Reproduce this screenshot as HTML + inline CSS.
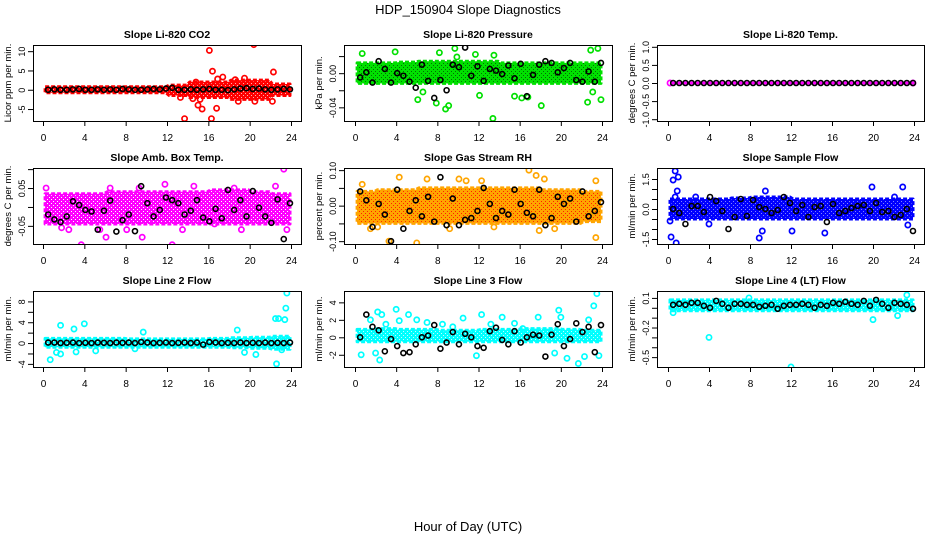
<!DOCTYPE html>
<html><head><meta charset="utf-8"><style>
body{margin:0;background:#fff;}
svg text{font-family:"Liberation Sans",Arial,sans-serif;}
</style></head><body>
<svg id="chart" width="936" height="540" viewBox="0 0 936 540" xmlns="http://www.w3.org/2000/svg">
<defs id="defs"></defs>
<text x="468" y="14" text-anchor="middle" font-size="13">HDP_150904  Slope Diagnostics</text>
<text x="468" y="531" text-anchor="middle" font-size="13">Hour of Day (UTC)</text>
</svg>
<script>
// ---------- data ----------
const hourTicks = [0,4,8,12,16,20,24];
const blackStart = 0.5, blackStep = 0.6;

const co2BandLo = [-0.8,-0.8,-0.8,-0.8,-0.8,-0.8,-1.5,-2,-2,-2.5,-2.5,-1.5];
const co2BandHi = [0.8,0.8,0.8,0.8,0.8,0.8,1.2,2,2,2.5,2.5,1.5];
const co2ColorHours = [13.3,13.7,14.8,15,15.4,16.1,16.3,16.4,16.8,16.9,17.4,18.6,18.9,19.5,20.4,20.5,22.3,22.2,15.2,14.5];
const co2ColorVals = [-2,-7.5,2,-4,-5,10.2,-7.5,4.8,-4.8,2.8,3.3,2.6,-3,3,11.7,-3,4.6,-3,-2.5,-2.3];
const co2Black = [0,0.1,0,0,0.1,0.2,0,0,0.1,0,0.1,0,0.2,0.1,0,0,0.1,0.2,0.1,0.3,0.5,0,0,0.1,0,0.1,0.2,0,0,-0.1,0.1,0.3,0.4,0.2,0.3,0.1,0,0.1,0.2,0.1];

const prBandLo = [-0.012,-0.012,-0.012,-0.012,-0.012,-0.012,-0.012,-0.012,-0.012,-0.012,-0.012,-0.012];
const prBandHi = [0.012,0.012,0.013,0.014,0.014,0.014,0.014,0.012,0.012,0.012,0.012,0.012];
const prColorHours = [0.7,3.9,6.1,6.6,7.9,8.2,8.8,9.1,9.7,9.9,11.7,12.1,13.4,13.5,15.5,16.2,16.8,18.1,22.6,22.9,23.6,23.9,23.1];
const prColorVals = [0.023,0.025,-0.031,-0.022,-0.035,0.024,-0.042,-0.038,0.029,0.019,0.022,-0.026,-0.053,0.021,-0.027,-0.029,-0.028,-0.038,-0.034,0.027,0.029,-0.031,-0.022];
const prBlack = [-0.005,0.001,-0.011,0.014,0.005,-0.011,0.0,-0.003,-0.01,-0.017,0.01,-0.009,-0.029,-0.008,-0.02,0.01,0.007,0.03,-0.003,0.008,-0.009,0.005,0.003,-0.001,0.009,-0.006,0.011,-0.027,-0.002,0.01,0.014,0.012,0.001,0.006,0.012,-0.008,-0.01,0.002,-0.01,0.012];

const tmBandLo = [0,0,0,0,0,0,0,0,0,0,0,0];
const tmBandHi = [0,0,0,0,0,0,0,0,0,0,0,0];
const tmColorHours = [0.2,23.9];
const tmColorVals = [0,0];
const tmBlack = [0,0,0,0,0,0,0,0,0,0,0,0,0,0,0,0,0,0,0,0,0,0,0,0,0,0,0,0,0,0,0,0,0,0,0,0,0,0,0,0];

const abBandLo = [-0.045,-0.045,-0.045,-0.045,-0.045,-0.045,-0.045,-0.045,-0.045,-0.045,-0.045,-0.045];
const abBandHi = [0.035,0.035,0.035,0.04,0.04,0.04,0.04,0.04,0.045,0.045,0.04,0.035];
const abColorHours = [0.3,3.7,2.5,6.1,6.5,9.6,9.3,11.8,12.5,14.6,18.5,19.2,23.3,23.6,22.5,5.5,8.1,16.6,1.8,13.5];
const abColorVals = [0.05,-0.1,-0.06,-0.08,0.05,-0.08,0.05,0.06,-0.1,0.055,0.05,-0.06,0.1,-0.06,0.055,-0.06,-0.06,-0.045,-0.055,-0.06];
const abBlack = [-0.02,-0.033,-0.04,-0.025,0.015,0.005,-0.008,-0.012,-0.06,-0.01,0.017,-0.065,-0.035,-0.02,-0.064,0.055,0.01,-0.025,-0.008,0.025,0.018,0.01,-0.02,-0.01,0.018,-0.028,-0.038,-0.005,-0.03,0.045,-0.008,0.018,-0.025,0.042,-0.002,-0.025,-0.042,0.02,-0.085,0.01];

const rhBandLo = [-0.05,-0.05,-0.05,-0.05,-0.05,-0.05,-0.05,-0.05,-0.05,-0.05,-0.05,-0.045];
const rhBandHi = [0.04,0.045,0.045,0.05,0.05,0.05,0.05,0.05,0.05,0.045,0.045,0.04];
const rhColorHours = [0.7,3.3,4.3,6,7,10.1,10.8,12.3,13.5,16.9,17.6,17.9,18.4,19.4,23.4,23.4,2.2,9.2,1.5];
const rhColorVals = [0.06,-0.1,0.08,-0.105,0.075,0.075,0.07,0.07,-0.06,0.1,0.085,-0.07,0.075,-0.065,0.07,-0.09,-0.06,-0.065,-0.065];
const rhBlack = [0.04,0.015,-0.06,0.005,-0.025,-0.1,0.045,-0.065,-0.015,0.015,-0.03,0.025,-0.045,0.08,-0.055,0.02,-0.055,-0.04,-0.035,-0.015,0.05,0.005,-0.035,-0.015,-0.025,0.045,0.005,-0.02,-0.03,0.045,-0.055,-0.035,0.025,0.005,0.02,-0.045,0.04,-0.03,-0.015,0.01];

const sfBandLo = [-0.5,-0.5,-0.5,-0.5,-0.5,-0.5,-0.5,-0.5,-0.5,-0.5,-0.5,-0.5];
const sfBandHi = [0.5,0.5,0.5,0.55,0.6,0.6,0.5,0.5,0.5,0.5,0.5,0.5];
const sfColorHours = [0.3,0.5,0.7,0.8,1.0,0.9,0.7,8.9,9.2,9.5,12.1,15.3,19.9,22.9,23.4,22.1,0.2,2.7,4.0];
const sfColorVals = [-1.4,1.45,1.9,-1.7,1.6,0.9,0.6,-1.45,-1.1,0.9,-1.1,-1.2,1.1,1.1,-0.8,0.6,-0.6,0.6,-0.75];
const sfBlack = [0.0,-0.2,-0.75,0.15,0.15,-0.15,0.6,0.4,-0.1,-1.0,-0.4,0.5,-0.35,0.45,0.1,0.0,-0.2,-0.05,0.6,0.3,-0.1,0.2,-0.4,0.1,0.15,-0.65,0.25,-0.2,-0.1,0.05,0.15,0.2,-0.1,0.3,-0.15,-0.1,-0.4,-0.3,0.0,-1.1];

const l2BandLo = [-0.8,-0.8,-0.8,-0.8,-0.8,-0.8,-0.8,-0.8,-0.8,-0.9,-1.0,-1.2];
const l2BandHi = [0.9,0.9,0.9,0.9,0.8,0.8,0.8,0.8,0.9,1.0,1.1,1.3];
const l2ColorHours = [0.7,1.3,1.7,1.7,3.0,4.0,5.1,8.9,18.8,19.5,20.6,22.5,22.8,22.6,23.4,23.5,23.6,23.1,3.2,9.7];
const l2ColorVals = [-3.2,-1.8,-2.1,3.4,2.7,3.7,-1.5,-1.1,2.5,-1.8,-2.2,4.7,4.7,-4.0,4.5,6.7,9.6,-1.3,-1.7,2.1];
const l2Black = [0.1,0.1,0,0.05,0.1,0,0.05,0,0.1,0.05,0,0.1,0.05,0.1,0,0.2,0.1,0,0.05,0.1,0,0.05,0.1,0,0.1,-0.3,0.2,0.1,0,0.05,0,0.1,0,0.05,0,0.1,0,0.05,0,0.1];

const l3BandLo = [-0.5,-0.5,-0.5,-0.5,-0.5,-0.5,-0.5,-0.5,-0.5,-0.5,-0.5,-0.5];
const l3BandHi = [0.9,1.0,0.9,0.9,0.8,0.8,0.9,0.9,1.0,1.0,0.9,0.8];
const l3ColorHours = [0.6,1.5,2.0,2.2,2.4,2.6,4.0,4.3,5.2,6,7,8.5,10.5,11.8,12.3,13.2,14.3,15.5,17.8,19.8,20.0,20.6,21.7,22.3,22.7,23.2,23.5,23.7,19.4,3.0,9.5,16.3];
const l3ColorVals = [-2,2,-1.8,2.9,-2.6,2.6,3.2,1.9,2.6,2,1.7,1.5,2.2,-2.1,2.6,1.5,2.3,1.6,2.3,3.1,2.3,-2.4,-3.0,-2.2,2,3.6,5,-2.1,-1.8,1.5,1.2,1.0];
const l3Black = [0,2.6,1.2,0.8,-1.6,-0.2,-1,-1.8,-1.7,-0.8,0,0.2,1.4,-1.3,-0.6,0.6,-0.8,0.4,0,-1,-1.2,0.7,1.1,-0.3,-0.8,0.7,-0.6,0,0.3,0.2,-2.2,0.3,1.5,-1,-0.2,1.6,0.6,1.2,-1.7,1.4];

const l4BandLo = [-0.03,-0.03,-0.03,-0.03,-0.03,-0.03,-0.03,-0.03,-0.03,-0.03,-0.03,-0.03];
const l4BandHi = [0.08,0.08,0.08,0.08,0.08,0.08,0.08,0.08,0.08,0.08,0.08,0.08];
const l4ColorHours = [4,12,20,0.5,23.3,7.9,22.4];
const l4ColorVals = [-0.3,-0.6,-0.12,-0.05,0.13,0.1,-0.08];
const l4Black = [0.03,0.04,0.03,0.05,0.05,0.02,0.0,0.07,0.04,0.0,0.04,0.04,0.03,0.03,0.01,0.02,0.03,-0.01,0.02,0.03,0.03,0.04,0.03,0.0,0.03,0.02,0.05,0.04,0.06,0.04,0.03,0.07,0.02,0.08,0.04,0.0,0.05,0.04,0.03,-0.01];

const yTicks1 = [-5,0,5,10];           const yLabels1 = ["-5","0","5","10"];
const yTicks2 = [-0.04,-0.02,0,0.02];  const yLabels2 = ["-0.04","","0.00",""];
const yTicks3 = [-1,-0.5,0,0.5,1];     const yLabels3 = ["-1.0","-0.5","0.0","0.5","1.0"];
const yTicks4 = [-0.05,0,0.05,0.1];    const yLabels4 = ["-0.05","","0.05",""];
const yTicks5 = [-0.1,-0.05,0,0.05,0.1]; const yLabels5 = ["-0.10","","0.00","","0.10"];
const yTicks6 = [-1.5,-1,-0.5,0,0.5,1,1.5]; const yLabels6 = ["-1.5","","","0.0","","","1.5"];
const yTicks7 = [-4,-2,0,2,4,6,8];     const yLabels7 = ["-4","","0","","4","","8"];
const yTicks8 = [-2,0,2,4];            const yLabels8 = ["-2","0","2","4"];
const yTicks9 = [-0.5,-0.4,-0.3,-0.2,-0.1,0,0.1]; const yLabels9 = ["-0.5","","","-0.2","","","0.1"];

// ---------- layout ----------
const svg = document.getElementById('chart');
const defs = document.getElementById('defs');
const NS = 'http://www.w3.org/2000/svg';
function mk(tag, attrs, parent){const e=document.createElementNS(NS,tag);for(const k in attrs)e.setAttribute(k,attrs[k]);(parent||svg).appendChild(e);return e;}

const colL=[33,344,657], colR=[301,612,924], colX0=[43,355,668], colX24=[291,602,914];
const rowT=[45,168,291], rowB=[121,244,367];

const panels = [
 {name:'co2',title:'Slope Li-820 CO2',ylab:'Licor ppm per min.',col:0,row:0,dom:[11.6,-8.1],color:'#ff0000',dot:'#ffb0b0',lo:co2BandLo,hi:co2BandHi,ch:co2ColorHours,cv:co2ColorVals,blk:co2Black,yt:yTicks1,yl:yLabels1},
 {name:'pressure',title:'Slope Li-820 Pressure',ylab:'kPa per min.',col:1,row:0,dom:[0.033,-0.056],color:'#00e000',dot:'#007000',lo:prBandLo,hi:prBandHi,ch:prColorHours,cv:prColorVals,blk:prBlack,yt:yTicks2,yl:yLabels2},
 {name:'temp',title:'Slope Li-820 Temp.',ylab:'degrees C per min.',col:2,row:0,dom:[1.05,-1.05],color:'#ff00ff',dot:'#ffb0ff',lo:tmBandLo,hi:tmBandHi,ch:tmColorHours,cv:tmColorVals,blk:tmBlack,yt:yTicks3,yl:yLabels3},
 {name:'amb-box-temp',title:'Slope Amb. Box Temp.',ylab:'degrees C per min.',col:0,row:1,dom:[0.103,-0.098],color:'#ff00ff',dot:'#ffffff',lo:abBandLo,hi:abBandHi,ch:abColorHours,cv:abColorVals,blk:abBlack,yt:yTicks4,yl:yLabels4},
 {name:'gas-stream-rh',title:'Slope Gas Stream RH',ylab:'percent per min.',col:1,row:1,dom:[0.106,-0.108],color:'#FFA500',dot:'#ff2000',lo:rhBandLo,hi:rhBandHi,ch:rhColorHours,cv:rhColorVals,blk:rhBlack,yt:yTicks5,yl:yLabels5},
 {name:'sample-flow',title:'Slope Sample Flow',ylab:'ml/min per min.',col:2,row:1,dom:[2.05,-1.75],color:'#0000ff',dot:'#8080ff',lo:sfBandLo,hi:sfBandHi,ch:sfColorHours,cv:sfColorVals,blk:sfBlack,yt:yTicks6,yl:yLabels6},
 {name:'line2-flow',title:'Slope Line 2 Flow',ylab:'ml/min per min.',col:0,row:2,dom:[10,-4.6],color:'#00ffff',dot:'#c0ffff',lo:l2BandLo,hi:l2BandHi,ch:l2ColorHours,cv:l2ColorVals,blk:l2Black,yt:yTicks7,yl:yLabels7},
 {name:'line3-flow',title:'Slope Line 3 Flow',ylab:'ml/min per min.',col:1,row:2,dom:[5.3,-3.4],color:'#00ffff',dot:'#c0ffff',lo:l3BandLo,hi:l3BandHi,ch:l3ColorHours,cv:l3ColorVals,blk:l3Black,yt:yTicks8,yl:yLabels8},
 {name:'line4-flow',title:'Slope Line 4 (LT) Flow',ylab:'ml/min per min.',col:2,row:2,dom:[0.17,-0.6],color:'#00ffff',dot:'#c0ffff',lo:l4BandLo,hi:l4BandHi,ch:l4ColorHours,cv:l4ColorVals,blk:l4Black,yt:yTicks9,yl:yLabels9}
];

panels.forEach(p=>{
  const L=colL[p.col], R=colR[p.col], T=rowT[p.row], B=rowB[p.row];
  const x0=colX0[p.col], x24=colX24[p.col];
  const xs = h => x0 + (x24-x0)*h/24;
  const ys = v => T + (B-T)*(p.dom[0]-v)/(p.dom[0]-p.dom[1]);
  const pat = mk('pattern',{id:'pat-'+p.name,width:4,height:4,patternUnits:'userSpaceOnUse'},defs);
  mk('rect',{width:4,height:4,fill:p.color},pat);
  mk('rect',{x:1,y:1,width:1,height:1,fill:p.dot},pat);
  mk('rect',{x:3,y:3,width:1,height:1,fill:p.dot},pat);
  const g = mk('g',{});
  
  
  const cp = mk('clipPath',{id:'clip-'+p.name},g);
  mk('rect',{x:L,y:T,width:R-L,height:B-T},cp);
  const title = mk('text',{x:(L+R)/2,y:T-7,'text-anchor':'middle','font-size':10.5,'font-weight':'bold'},g);
  title.textContent = p.title;
  
  
  // band
  const nb = p.lo.length, bw = 24/nb;
  let pts=[];
  for(let i=0;i<nb;i++){pts.push([xs(i*bw+0.2),ys(p.hi[i])]);pts.push([xs((i+1)*bw-0.1),ys(p.hi[i])]);}
  for(let i=nb-1;i>=0;i--){pts.push([xs((i+1)*bw-0.1),ys(p.lo[i])]);pts.push([xs(i*bw+0.2),ys(p.lo[i])]);}
  const band = mk('polygon',{points:pts.map(q=>q[0].toFixed(1)+','+q[1].toFixed(1)).join(' '),fill:'url(#pat-'+p.name+')',stroke:p.color,'stroke-width':3,'stroke-dasharray':'4 2','stroke-linejoin':'round','clip-path':'url(#clip-'+p.name+')'},g);
  
  
  // colored points
  p.ch.forEach((h,i)=>{
    const c = mk('circle',{cx:xs(h),cy:ys(p.cv[i]),r:2.6,fill:'none',stroke:p.color,'stroke-width':1.7,'clip-path':'url(#clip-'+p.name+')'},g);
    
    
  });
  // black points
  p.blk.forEach((v,i)=>{
    const c = mk('circle',{cx:xs(blackStart+blackStep*i),cy:ys(v),r:2.5,fill:'none',stroke:'#000','stroke-width':1.6,'clip-path':'url(#clip-'+p.name+')'},g);
    
    
  });
  // box
  const box = mk('rect',{x:L+0.5,y:T+0.5,width:R-L,height:B-T,fill:'none',stroke:'#000','stroke-width':1},g);
  
  
  // x axis
  const xa = mk('g',{},g);
  
  
  mk('line',{x1:xs(hourTicks[0]),x2:xs(hourTicks[hourTicks.length-1]),y1:B+0.5,y2:B+0.5,stroke:'#000'},xa);
  hourTicks.forEach(t=>{
    mk('line',{x1:xs(t)+0.5,x2:xs(t)+0.5,y1:B,y2:B+5,stroke:'#000'},xa);
    const tl = mk('text',{x:xs(t)+0.5,y:B+20,'text-anchor':'middle','font-size':10},xa);
    tl.textContent = String(t);
    
    
  });
  // y axis
  const ya = mk('g',{},g);
  
  
  mk('line',{x1:L+0.5,x2:L+0.5,y1:ys(p.yt[0]),y2:ys(p.yt[p.yt.length-1]),stroke:'#000'},ya);
  p.yt.forEach((t,i)=>{
    const y = ys(t);
    mk('line',{x1:L-5,x2:L,y1:y+0.5,y2:y+0.5,stroke:'#000'},ya);
    if(p.yl[i]){
      const tl = mk('text',{x:0,y:0,'text-anchor':'middle','font-size':9,transform:'translate('+(L-8)+','+(y+0.5)+') rotate(-90)'},ya);
      tl.textContent = p.yl[i];
      
      
    }
  });
  const yt = mk('text',{x:0,y:0,'text-anchor':'middle','font-size':9.5,transform:'translate('+(L-22)+','+((T+B)/2)+') rotate(-90)'},g);
  yt.textContent = p.ylab;
  
  
});
</script>
</body></html>
